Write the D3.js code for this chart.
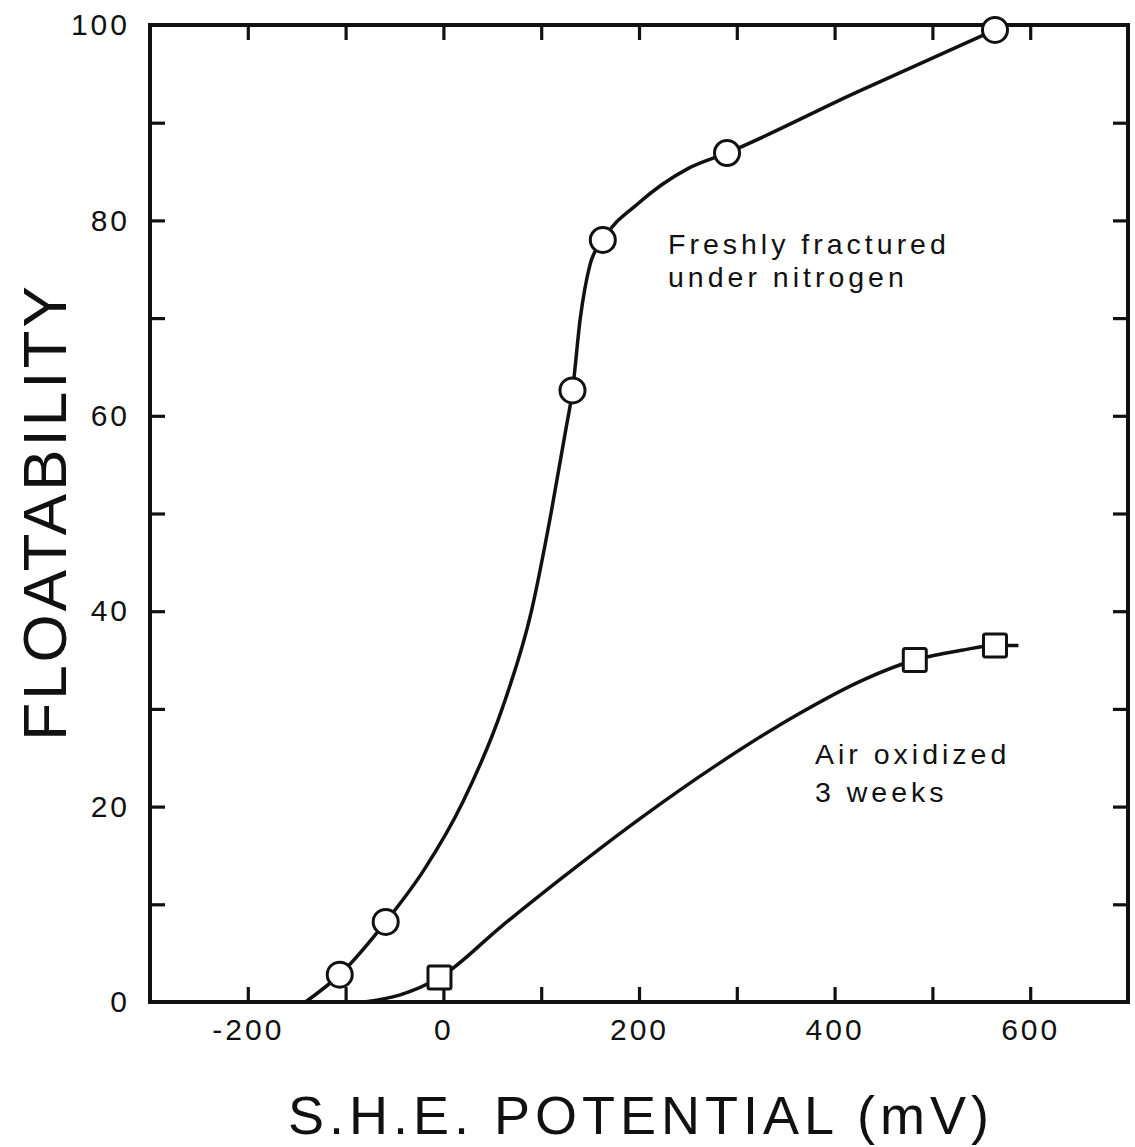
<!DOCTYPE html>
<html>
<head>
<meta charset="utf-8">
<title>Floatability vs S.H.E. potential</title>
<script src="https://cdn.jsdelivr.net/npm/d3@7"></script>
<style>
	body{ margin:0; background:#fff; }
	svg text{ font-family:"Liberation Sans", Arial, sans-serif; fill:#111; }
</style>
</head>
<body>
<div id="chart"></div>
<script>
// measured points
var potentialFresh = [-106, -59, 132, 163, 290, 564];
var floatFresh     = [2.8, 8.2, 62.6, 78, 86.9, 99.5];
var potentialAir   = [-4, 482, 564];
var floatAir       = [2.5, 35, 36.5];

// hand drawn curves
var traceFreshX = [-141, -106, -59, -20, 20, 60, 90, 110, 125, 132, 140, 150, 163, 200, 250, 290, 420, 564];
var traceFreshY = [0, 2.8, 8.2, 13.5, 20.5, 30, 40, 50, 58.5, 62.6, 70, 75.5, 78, 81.8, 85.3, 86.9, 93, 99.5];
var traceAirX = [-81, -45, -4, 60, 120, 200, 280, 360, 430, 482, 530, 564, 588];
var traceAirY = [0, 0.7, 2.5, 7.8, 12.6, 18.7, 24.3, 29.3, 33, 35, 36, 36.5, 36.5];

var xTicks = [-200, -100, 0, 100, 200, 300, 400, 500, 600];
var xLabels = [-200, 0, 200, 400, 600];
var yTicks = [10, 20, 30, 40, 50, 60, 70, 80, 90];
var yLabels = [0, 20, 40, 60, 80, 100];

var W = 1135, H = 1147;
var padL = 150, padR = 1128, padT = 25, padB = 1002;

var svg = d3.select('#chart').append('svg').attr('width', W).attr('height', H);

var x = d3.scaleLinear().domain([-300, 700]).range([padL, padR]);
var y = d3.scaleLinear().domain([0, 100]).range([padB, padT]);

function styleAxis(g){
	g.select('.domain').remove();
	g.selectAll('.tick line').attr('stroke', '#111').attr('stroke-width', 3.2);
	g.selectAll('.tick text').style('font-size', '30px').style('letter-spacing', '3px');
}

// bottom ticks + labels
svg.append('g').attr('transform', 'translate(0,' + padB + ')')
	.call(d3.axisBottom(x).tickValues(xTicks).tickSizeInner(-15).tickSizeOuter(0).tickPadding(17)
		.tickFormat(function(d){ return xLabels.indexOf(d) >= 0 ? d : ''; }))
	.call(styleAxis);
// top ticks
svg.append('g').attr('transform', 'translate(0,' + padT + ')')
	.call(d3.axisTop(x).tickValues(xTicks).tickSizeInner(-15).tickSizeOuter(0).tickFormat(''))
	.call(styleAxis);
// left ticks + labels
var leftAxis = svg.append('g').attr('transform', 'translate(' + padL + ',0)')
	.call(d3.axisLeft(y).tickValues(yTicks.concat([0, 100])).tickSizeInner(-15).tickSizeOuter(0).tickPadding(20)
		.tickFormat(function(d){ return yLabels.indexOf(d) >= 0 ? d : ''; }))
	.call(styleAxis);
leftAxis.selectAll('.tick').filter(function(d){ return d === 0 || d === 100; }).select('line').remove();
// right ticks
svg.append('g').attr('transform', 'translate(' + padR + ',0)')
	.call(d3.axisRight(y).tickValues(yTicks).tickSizeInner(-15).tickSizeOuter(0).tickFormat(''))
	.call(styleAxis);

// frame
svg.append('rect')
	.attr('x', padL).attr('y', padT)
	.attr('width', padR - padL).attr('height', padB - padT)
	.attr('fill', 'none').attr('stroke', '#111').attr('stroke-width', 4);

// curves
var line = d3.line()
	.x(function(d){ return x(d[0]); })
	.y(function(d){ return y(d[1]); })
	.curve(d3.curveMonotoneX);

svg.append('path')
	.datum(d3.zip(traceFreshX, traceFreshY))
	.attr('d', line)
	.attr('fill', 'none').attr('stroke', '#111').attr('stroke-width', 3.5);
svg.append('path')
	.datum(d3.zip(traceAirX, traceAirY))
	.attr('d', line)
	.attr('fill', 'none').attr('stroke', '#111').attr('stroke-width', 3.5);

// markers
svg.selectAll('circle.fresh').data(d3.zip(potentialFresh, floatFresh)).enter().append('circle')
	.attr('class', 'fresh')
	.attr('cx', function(d){ return x(d[0]); })
	.attr('cy', function(d){ return y(d[1]); })
	.attr('r', 12.5)
	.attr('fill', '#fff').attr('stroke', '#111').attr('stroke-width', 3);

var sq = 23;
svg.selectAll('rect.air').data(d3.zip(potentialAir, floatAir)).enter().append('rect')
	.attr('class', 'air')
	.attr('x', function(d){ return x(d[0]) - sq / 2; })
	.attr('y', function(d){ return y(d[1]) - sq / 2; })
	.attr('width', sq).attr('height', sq).attr('rx', 2)
	.attr('fill', '#fff').attr('stroke', '#111').attr('stroke-width', 3);

// labels on the curves
var notes = [
	{t:'Freshly fractured', x:668, y:254},
	{t:'under nitrogen', x:668, y:287},
	{t:'Air oxidized', x:815, y:764},
	{t:'3 weeks', x:815, y:802}
];
svg.selectAll('text.note').data(notes).enter().append('text')
	.attr('class', 'note')
	.attr('x', function(d){ return d.x; })
	.attr('y', function(d){ return d.y; })
	.style('font-size', '28.5px').style('letter-spacing', '4px')
	.text(function(d){ return d.t; });

// axis titles
svg.append('text')
	.attr('transform', 'translate(66,512) rotate(-90)')
	.attr('text-anchor', 'middle')
	.style('font-size', '62px').style('letter-spacing', '3px')
	.text('FLOATABILITY');
svg.append('text')
	.attr('x', 641).attr('y', 1134)
	.attr('text-anchor', 'middle')
	.style('font-size', '54px').style('letter-spacing', '5px')
	.text('S.H.E. POTENTIAL (mV)');
</script>
</body>
</html>
